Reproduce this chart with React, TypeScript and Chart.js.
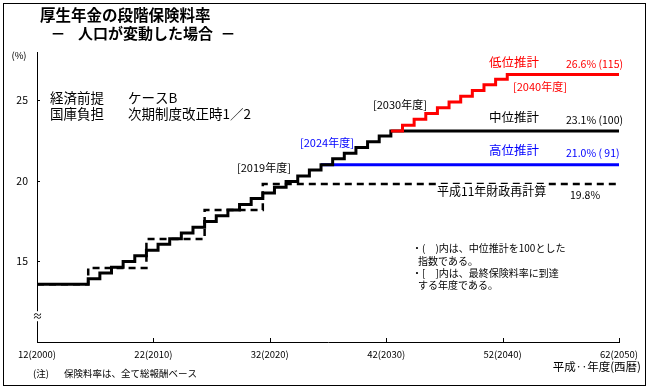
import React, { useEffect, useRef } from 'react';
import { Chart, registerables } from 'chart.js';

Chart.register(...registerables);

const FONT = "'Noto Sans CJK JP', 'Noto Sans', sans-serif";

// ---- data (fiscal years; rates in % of total remuneration) ----
const START_YEAR = 2000;
const END_YEAR = 2050;
const STEP_OFFSET = 0.4; // each increase takes effect in autumn of the fiscal year
const baseRate = 13.58;

const middleStepYears = [2004, 2005, 2006, 2007, 2008, 2009, 2010, 2011, 2012, 2013, 2014, 2015, 2016, 2017, 2018, 2019, 2020, 2021, 2022, 2023, 2024, 2025, 2026, 2027, 2028, 2029, 2030];
const middleStepRates = [13.93, 14.29, 14.64, 15.0, 15.35, 15.7, 16.06, 16.41, 16.77, 17.12, 17.48, 17.83, 18.19, 18.54, 18.9, 19.25, 19.6, 19.96, 20.31, 20.67, 21.0, 21.37, 21.72, 22.07, 22.43, 22.78, 23.1];

const lowStepYears = [2030, 2031, 2032, 2033, 2034, 2035, 2036, 2037, 2038, 2039, 2040];
const lowStepRates = [23.1, 23.46, 23.83, 24.19, 24.54, 24.9, 25.26, 25.61, 25.96, 26.31, 26.6];

const highStepYears = [2024];
const highStepRates = [21.0];

const oldPlanStepYears = [2004, 2009, 2014, 2019];
const oldPlanStepRates = [14.6, 16.4, 18.2, 19.8];

const xTickValues = [2000, 2010, 2020, 2030, 2040, 2050];
const xTickLabels = ['12(2000)', '22(2010)', '32(2020)', '42(2030)', '52(2040)', '62(2050)'];
const yTickValues = [15, 20, 25];

function buildSteps(years: number[], rates: number[], start?: number) {
  const pts: { x: number; y: number }[] = [];
  if (start !== undefined) pts.push({ x: START_YEAR, y: start });
  years.forEach((yr, i) => pts.push({ x: yr + STEP_OFFSET, y: rates[i] }));
  pts.push({ x: END_YEAR, y: rates[rates.length - 1] });
  return pts;
}

type T = { t: string; x: number; y: number; size: number; color?: string; bold?: boolean; align?: CanvasTextAlign; bg?: boolean };

const texts: T[] = [
  { t: '厚生年金の段階保険料率', x: 40, y: 15.5, size: 15.5, bold: true },
  { t: '－', x: 58, y: 33.5, size: 15, bold: true, align: 'center' },
  { t: '人口が変動した場合', x: 78, y: 33.5, size: 15, bold: true },
  { t: '－', x: 228, y: 33.5, size: 15, bold: true, align: 'center' },
  { t: '(%)', x: 19, y: 55, size: 9.5, align: 'center' },
  { t: '経済前提', x: 50, y: 97.5, size: 13.5 },
  { t: 'ケースB', x: 128, y: 97.5, size: 13.5 },
  { t: '国庫負担', x: 50, y: 113.5, size: 13.5 },
  { t: '次期制度改正時1／2', x: 128, y: 113.5, size: 13.5 },
  { t: '[2019年度]', x: 237, y: 168, size: 11 },
  { t: '[2024年度]', x: 300, y: 142.5, size: 11, color: '#0000ff' },
  { t: '[2030年度]', x: 373, y: 105, size: 11 },
  { t: '[2040年度]', x: 513, y: 87, size: 11, color: '#ff0000' },
  { t: '低位推計', x: 489, y: 62, size: 12.5, color: '#ff0000' },
  { t: '26.6% (115)', x: 566, y: 64, size: 10.5, color: '#ff0000' },
  { t: '中位推計', x: 489, y: 117, size: 12.5 },
  { t: '23.1% (100)', x: 566, y: 120, size: 10.5 },
  { t: '高位推計', x: 489, y: 150, size: 12.5, color: '#0000ff' },
  { t: '21.0% ( 91)', x: 566, y: 153, size: 10.5, color: '#0000ff' },
  { t: '平成11年財政再計算', x: 437, y: 191, size: 12, bg: true },
  { t: '19.8%', x: 570, y: 195, size: 10.5 },
  { t: '・(　)内は、中位推計を100とした', x: 412, y: 248, size: 10 },
  { t: '指数である。', x: 418, y: 261, size: 10 },
  { t: '・[　]内は、最終保険料率に到達', x: 412, y: 273, size: 10 },
  { t: 'する年度である。', x: 418, y: 285, size: 10 },
  { t: '(注)', x: 33, y: 373, size: 9.5 },
  { t: '保険料率は、全て総報酬ベース', x: 64, y: 373, size: 9.5 },
  { t: '平成‥年度(西暦)', x: 641, y: 367, size: 11.5, align: 'right' },
];

const decorPlugin = {
  id: 'decor',
  beforeDraw(chart: any) {
    const ctx = chart.ctx as CanvasRenderingContext2D;
    ctx.save();
    ctx.fillStyle = '#ffffff';
    ctx.fillRect(0, 0, chart.width, chart.height);
    ctx.restore();
  },
  afterDraw(chart: any) {
    const ctx = chart.ctx as CanvasRenderingContext2D;
    const xs = chart.scales.x;
    const ys = chart.scales.y;
    const area = chart.chartArea;
    ctx.save();
    // outer frame
    ctx.strokeStyle = '#000';
    ctx.lineWidth = 1;
    ctx.strokeRect(3.5, 3.5, 642, 382);
    // inside tick marks
    ctx.beginPath();
    xTickValues.forEach((v) => {
      const px = Math.round(xs.getPixelForValue(v)) + 0.5;
      ctx.moveTo(px, area.bottom);
      ctx.lineTo(px, area.bottom - 4);
    });
    yTickValues.forEach((v) => {
      const py = Math.round(ys.getPixelForValue(v)) + 0.5;
      ctx.moveTo(area.left, py);
      ctx.lineTo(area.left + 3, py);
    });
    ctx.stroke();
    // axis break
    const bx = area.left;
    const by = ys.getPixelForValue(11.6);
    ctx.fillStyle = '#fff';
    ctx.fillRect(bx - 5, by - 5, 10, 10);
    ctx.fillStyle = '#000';
    ctx.font = `10px ${FONT}`;
    ctx.textAlign = 'center';
    ctx.textBaseline = 'middle';
    ctx.fillText('≈', bx + 0.5, by);
    // texts
    texts.forEach((it) => {
      ctx.font = `${it.bold ? 'bold ' : ''}${it.size}px ${FONT}`;
      ctx.textAlign = it.align || 'left';
      ctx.textBaseline = 'middle';
      if (it.bg) {
        const w = ctx.measureText(it.t).width;
        ctx.fillStyle = '#fff';
        ctx.fillRect(it.x - 1, it.y - it.size / 2 - 1, w + 2, it.size + 2);
      }
      ctx.fillStyle = it.color || '#000';
      ctx.fillText(it.t, it.x, it.y);
    });
    ctx.restore();
  },
};

export default function App() {
  const ref = useRef<HTMLCanvasElement | null>(null);
  useEffect(() => {
    if (!ref.current) return;
    const lineBase = { pointRadius: 0, stepped: 'before' as const, fill: false, tension: 0, borderJoinStyle: 'miter' as const };
    const chart = new Chart(ref.current, {
      type: 'line',
      data: {
        datasets: [
          { ...lineBase, label: '低位推計', data: buildSteps(lowStepYears, lowStepRates), borderColor: '#ff0000', borderWidth: 3, order: 0 },
          { ...lineBase, label: '中位推計', data: buildSteps(middleStepYears, middleStepRates, baseRate), borderColor: '#000000', borderWidth: 3, order: 1 },
          { ...lineBase, label: '高位推計', data: buildSteps(highStepYears, highStepRates), borderColor: '#0000ff', borderWidth: 3, order: 2 },
          { ...lineBase, label: '平成11年財政再計算', data: buildSteps(oldPlanStepYears, oldPlanStepRates, baseRate), borderColor: '#000000', borderWidth: 2.5, borderDash: [7, 5], order: 3 },
        ],
      },
      options: {
        animation: false,
        responsive: false,
        events: [],
        layout: { padding: { left: 0, top: 52, right: 30, bottom: 0 } },
        plugins: { legend: { display: false }, tooltip: { enabled: false }, title: { display: false } },
        scales: {
          x: {
            type: 'linear',
            min: START_YEAR,
            max: END_YEAR,
            grid: { display: false, drawTicks: false },
            border: { display: true, color: '#000', width: 1 },
            afterBuildTicks: (s: any) => { s.ticks = xTickValues.map((v) => ({ value: v })); },
            afterFit: (s: any) => { s.height = 48; },
            ticks: {
              padding: 7,
              maxRotation: 0,
              autoSkip: false,
              color: '#000',
              font: { family: FONT, size: 9.5 },
              callback: (_v: any, i: number) => xTickLabels[i],
            },
          },
          y: {
            type: 'linear',
            min: 10,
            max: 28,
            grid: { display: false, drawTicks: false },
            border: { display: true, color: '#000', width: 1 },
            afterBuildTicks: (s: any) => { s.ticks = yTickValues.map((v) => ({ value: v })); },
            afterFit: (s: any) => { s.width = 37; },
            ticks: {
              padding: 9,
              color: '#000',
              font: { family: FONT, size: 10.5 },
              callback: (v: any) => String(v),
            },
          },
        },
      },
      plugins: [decorPlugin],
    });
    return () => chart.destroy();
  }, []);
  return (
    <div style={{ position: 'absolute', left: 0, top: 0, width: 649, height: 390 }}>
      <canvas ref={ref} width={649} height={390} style={{ display: 'block', width: 649, height: 390 }} />
    </div>
  );
}
